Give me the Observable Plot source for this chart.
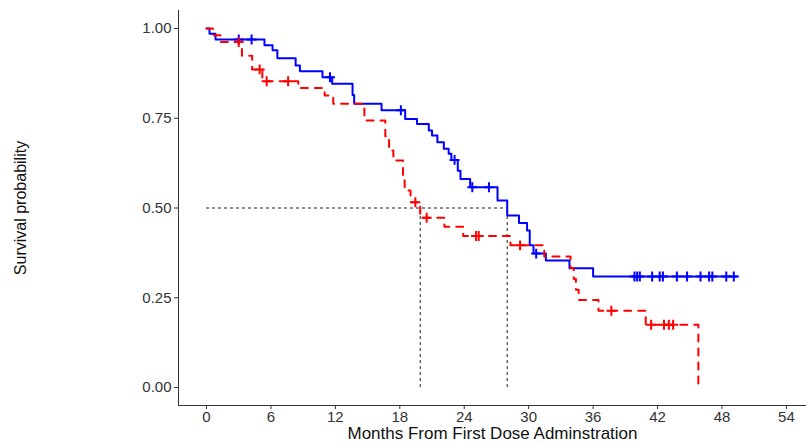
<!DOCTYPE html>
<html>
<head>
<meta charset="utf-8">
<script src="https://cdn.jsdelivr.net/npm/d3@7"></script>
<script src="https://cdn.jsdelivr.net/npm/@observablehq/plot@0.6"></script>
<style>
  html, body { margin: 0; padding: 0; background: #fff; }
  #chart svg { display: block; }
</style>
</head>
<body>
<div id="chart"></div>
<script>
// Blue stratum (solid)
const blueTime = [0, 0.28, 0.84, 5.4, 6.15, 6.6, 8.3, 8.7, 10.8, 11.7, 13.6, 13.75, 16.3, 18.5, 19.6, 20.7, 21.0, 21.5, 22.1, 22.55, 22.8, 23.4, 23.65, 24.55, 27.1, 28.0, 29.1, 29.85, 30.1, 30.45, 31.6, 33.8, 36.0, 49.4];
const blueSurv = [1.0, 0.985, 0.969, 0.953, 0.939, 0.917, 0.897, 0.881, 0.864, 0.846, 0.815, 0.790, 0.772, 0.748, 0.734, 0.716, 0.702, 0.683, 0.665, 0.651, 0.634, 0.604, 0.581, 0.558, 0.521, 0.479, 0.458, 0.437, 0.396, 0.373, 0.354, 0.332, 0.309, 0.309];
const blueCensor = [3.0, 4.2, 11.5, 18.1, 23.1, 24.75, 26.3, 30.7, 39.85, 40.1, 40.35, 41.5, 42.2, 42.5, 43.8, 44.75, 46.0, 46.8, 47.1, 48.4, 49.1];

// Red stratum (dashed)
const redTime = [0, 0.6, 1.3, 3.3, 4.25, 5.2, 8.55, 11.0, 11.8, 14.7, 16.65, 17.0, 17.4, 18.3, 18.45, 19.0, 19.9, 22.15, 23.9, 28.3, 31.45, 33.9, 34.2, 34.4, 34.65, 36.5, 40.9, 45.8];
const redSurv = [1.0, 0.981, 0.962, 0.924, 0.886, 0.853, 0.834, 0.813, 0.790, 0.744, 0.700, 0.660, 0.632, 0.590, 0.549, 0.516, 0.473, 0.448, 0.422, 0.396, 0.365, 0.333, 0.302, 0.272, 0.244, 0.214, 0.175, 0.0];
const redCensor = [3.0, 4.95, 5.6, 7.6, 19.45, 20.5, 25.1, 25.35, 29.2, 37.7, 41.4, 42.6, 43.05, 43.45];

// Median survival times
const medianTimes = [19.9, 28.0];
const medianLevel = 0.5;

// Axis ticks
const xTicks = [0, 6, 12, 18, 24, 30, 36, 42, 48, 54];
const yTicks = [0, 0.25, 0.5, 0.75, 1.0];
const xDomain = [-2.607, 55.87];
const yDomain = [-0.05, 1.05];

const xTitle = "Months From First Dose Adminstration";
const yTitle = "Survival probability";

function stepData(times, surv) {
  return times.map((t, i) => ({t, s: surv[i]}));
}
function levelAt(times, surv, c) {
  let s = surv[0];
  for (let i = 0; i < times.length; i++) if (times[i] <= c) s = surv[i];
  return s;
}
const blueLine = stepData(blueTime, blueSurv);
const redLine = stepData(redTime, redSurv);
const blueCens = blueCensor.map(c => ({t: c, s: levelAt(blueTime, blueSurv, c)}));
const redCens = redCensor.map(c => ({t: c, s: levelAt(redTime, redSurv, c)}));

const medH = [{x1: 0, x2: d3.max(medianTimes), y: medianLevel}];
const medV = medianTimes.map(m => ({x: m, y1: 0, y2: medianLevel}));

const chart = Plot.plot({
  width: 806,
  height: 445,
  marginLeft: 178,
  marginRight: 0,
  marginTop: 10,
  marginBottom: 40,
  style: {fontFamily: "'Liberation Sans', Arial, sans-serif", fontSize: "15px", color: "#333", background: "#fff"},
  x: {domain: xDomain, ticks: xTicks, tickSize: 4, tickPadding: 2, label: null, tickFormat: d3.format("d")},
  y: {domain: yDomain, ticks: yTicks, tickSize: 4, tickPadding: 3, label: null, tickFormat: d3.format(".2f")},
  marks: [
    Plot.ruleX([xDomain[0]], {stroke: "#333", strokeWidth: 1}),
    Plot.ruleY([yDomain[0]], {stroke: "#333", strokeWidth: 1}),
    Plot.ruleY(medH, {x1: "x1", x2: "x2", y: "y", stroke: "#000", strokeWidth: 0.9, strokeDasharray: "3,3"}),
    Plot.ruleX(medV, {x: "x", y1: "y1", y2: "y2", stroke: "#000", strokeWidth: 0.9, strokeDasharray: "3,3"}),
    Plot.line(blueLine, {x: "t", y: "s", curve: "step-after", stroke: "#0000FF", strokeWidth: 2}),
    Plot.dot(blueCens, {x: "t", y: "s", symbol: "plus", r: 3.3, stroke: "#0000FF", strokeWidth: 2}),
    Plot.line(redLine, {x: "t", y: "s", curve: "step-after", stroke: "#FF0000", strokeWidth: 2, strokeDasharray: "7,7"}),
    Plot.dot(redCens, {x: "t", y: "s", symbol: "plus", r: 3.3, stroke: "#FF0000", strokeWidth: 2}),
    Plot.text([yTitle], {frameAnchor: "left", textAnchor: "middle", rotate: -90, dx: -158, fontSize: 16, fill: "#111"}),
    Plot.text([xTitle], {frameAnchor: "bottom", textAnchor: "middle", dy: 33, fontSize: 17, fill: "#111"})
  ]
});
document.getElementById("chart").appendChild(chart);
</script>
</body>
</html>
